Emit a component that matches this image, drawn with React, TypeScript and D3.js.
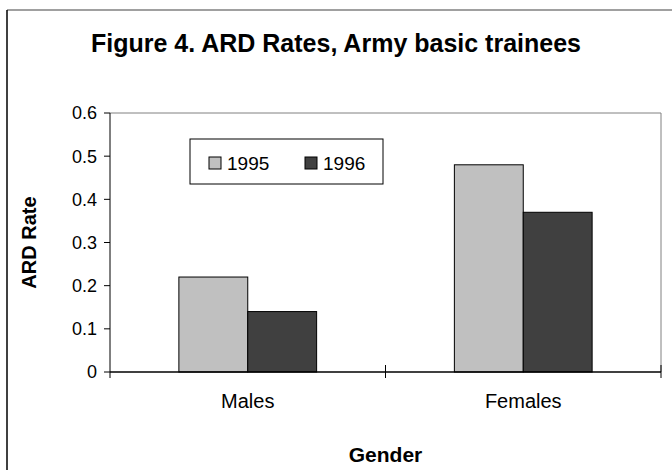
import React from "react";
import * as d3 from "d3";

const categories = ["Males", "Females"];
const years = ["1995", "1996"];
const rates1995 = [0.22, 0.48];
const rates1996 = [0.14, 0.37];
const yTicks = [0, 0.1, 0.2, 0.3, 0.4, 0.5, 0.6];
const colors = ["#c0c0c0", "#404040"];

const W = 672;
const H = 470;
const margin = { top: 113, right: 11, bottom: 98, left: 110 };
const font = "Arial, 'Liberation Sans', sans-serif";

export default function App() {
  const width = W - margin.left - margin.right;
  const height = H - margin.top - margin.bottom;

  const x = d3.scaleBand().domain(categories).range([0, width]);
  const inner = d3
    .scaleBand()
    .domain(years)
    .range([0, x.bandwidth() / 2])
    .padding(0);
  const groupOffset = x.bandwidth() / 4;
  const y = d3.scaleLinear().domain([0, 0.6]).range([height, 0]);

  const series = [rates1995, rates1996];
  const boundaries = [0, ...categories.map((c) => (x(c) as number) + x.bandwidth())];

  return (
    <svg width={W} height={H} style={{ position: "absolute", left: 0, top: 0, background: "#fff" }}>
      {/* outer frame */}
      <line x1={7} y1={10} x2={W} y2={10} stroke="#808080" strokeWidth={1.5} />
      <line x1={7} y1={10} x2={7} y2={H} stroke="#000" strokeWidth={1.5} />

      <text x={W / 2} y={52} textAnchor="middle" fontFamily={font} fontWeight="bold" fontSize={25}>
        Figure 4. ARD Rates, Army basic trainees
      </text>

      <g transform={`translate(${margin.left},${margin.top})`}>
        {/* plot area border */}
        <line x1={0} y1={0} x2={width} y2={0} stroke="#808080" />
        <line x1={width} y1={0} x2={width} y2={height} stroke="#808080" />

        {categories.map((c, i) =>
          years.map((yr, j) => {
            const v = series[j][i];
            return (
              <rect
                key={c + yr}
                x={(x(c) as number) + groupOffset + (inner(yr) as number)}
                y={y(v)}
                width={inner.bandwidth()}
                height={height - y(v)}
                fill={colors[j]}
                stroke="#000"
                strokeWidth={1}
              />
            );
          })
        )}

        {/* y axis */}
        <line x1={0} y1={0} x2={0} y2={height} stroke="#000" />
        {yTicks.map((t) => (
          <g key={t} transform={`translate(0,${y(t)})`}>
            <line x1={-6} x2={0} stroke="#000" />
            <text x={-13} dy="0.36em" textAnchor="end" fontFamily={font} fontSize={18}>
              {t}
            </text>
          </g>
        ))}

        {/* x axis */}
        <line x1={0} y1={height} x2={width} y2={height} stroke="#000" strokeWidth={1.5} />
        {boundaries.map((b, i) => (
          <line key={i} x1={b} x2={b} y1={i === 0 ? height : height - 7} y2={height + 6} stroke="#000" />
        ))}
        {categories.map((c) => (
          <text
            key={c}
            x={(x(c) as number) + x.bandwidth() / 2}
            y={height + 36}
            textAnchor="middle"
            fontFamily={font}
            fontSize={20}
          >
            {c}
          </text>
        ))}

        {/* legend */}
        <g transform="translate(80,26)">
          <rect x={0} y={0} width={193} height={45} fill="#fff" stroke="#000" />
          {years.map((yr, j) => (
            <g key={yr} transform={`translate(${19 + j * 96},18)`}>
              <rect x={0} y={0} width={12} height={12} fill={colors[j]} stroke="#000" />
              <text x={18} y={13} fontFamily={font} fontSize={19}>
                {yr}
              </text>
            </g>
          ))}
        </g>
      </g>

      <text
        transform={`translate(36,${margin.top + height / 2}) rotate(-90)`}
        textAnchor="middle"
        fontFamily={font}
        fontWeight="bold"
        fontSize={20}
      >
        ARD Rate
      </text>
      <text x={margin.left + width / 2} y={462} textAnchor="middle" fontFamily={font} fontWeight="bold" fontSize={21}>
        Gender
      </text>
    </svg>
  );
}
